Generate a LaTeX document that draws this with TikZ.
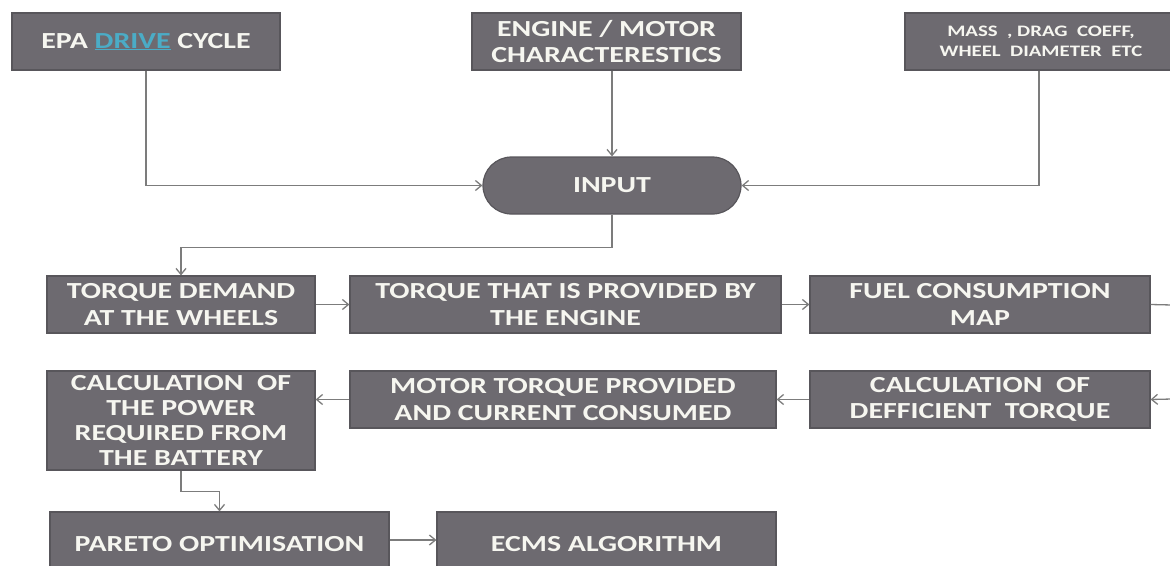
\documentclass[tikz,border=0pt]{standalone}
\usepackage{fontspec}
\setmainfont{Carlito}[FakeStretch=1.3]
\usetikzlibrary{arrows.meta}
\definecolor{boxfill}{HTML}{6D6A70}
\definecolor{boxline}{HTML}{58565B}
\definecolor{wire}{HTML}{7C7C7C}
\definecolor{txt}{HTML}{F6F6F0}
\definecolor{link}{HTML}{4BACC6}
\tikzset{
  blk/.style={draw=boxline, line width=1.2pt, fill=boxfill, text=txt, font=\bfseries\fontsize{23}{26.5}\selectfont, align=center, inner sep=0pt},
  conn/.style={draw=wire, line width=1.3pt, -{Straight Barb[length=6pt,width=10pt]}},
  plain/.style={draw=wire, line width=1.3pt}
}
\begin{document}
\begin{tikzpicture}[x=1pt,y=-1pt]
\useasboundingbox (0,0) rectangle (1170,565);
% top inputs
\node[blk, minimum width=268pt, minimum height=57pt] (epa) at (146,41.5) {EPA \textcolor{link}{\underline{DRIVE}} CYCLE};
\node[blk, minimum width=269pt, minimum height=57pt] (eng) at (606.5,41.5) {ENGINE / MOTOR\\CHARACTERESTICS};
\node[blk, minimum width=272pt, minimum height=57pt, font=\bfseries\fontsize{16}{19.5}\selectfont] (mass) at (1041,41.5) {MASS~~, DRAG~ COEFF,\\WHEEL~ DIAMETER~ ETC};
\node[blk, minimum width=258pt, minimum height=57pt, rounded corners=28.5pt] (inp) at (612,185.5) {INPUT};
% row 1
\node[blk, minimum width=268pt, minimum height=57pt] (tdem) at (181,304.5) {TORQUE DEMAND\\AT THE WHEELS};
\node[blk, minimum width=431pt, minimum height=57pt] (teng) at (565.5,304.5) {TORQUE THAT IS PROVIDED BY\\THE ENGINE};
\node[blk, minimum width=340pt, minimum height=57pt] (fuel) at (980,304.5) {FUEL CONSUMPTION\\MAP};
% row 2
\node[blk, minimum width=340pt, minimum height=57pt] (defi) at (980,399.5) {CALCULATION~ OF\\DEFFICIENT~ TORQUE};
\node[blk, minimum width=426pt, minimum height=57pt] (mot) at (563,399.5) {MOTOR TORQUE PROVIDED\\AND CURRENT CONSUMED};
\node[blk, minimum width=268pt, minimum height=99pt, font=\bfseries\fontsize{23}{25}\selectfont] (pow) at (181,420.5) {CALCULATION~ OF\\THE POWER\\REQUIRED FROM\\THE BATTERY};
% row 3
\node[blk, minimum width=339pt, minimum height=64pt] (par) at (219.5,544) {PARETO OPTIMISATION};
\node[blk, minimum width=339pt, minimum height=64pt] (ecms) at (606.5,544) {ECMS ALGORITHM};
% free ends at the right border
\coordinate (outR) at (1172,305);
\coordinate (inR) at (1172,399);
% connectors
\draw[conn] (epa.south) |- (inp.west);
\draw[conn] (eng.south -| inp.north) -- (inp.north);
\draw[conn] (mass.south -| 1039,0) |- (inp.east);
\draw[conn] (inp.south) -- ++(0,33) -| (tdem.north);
\draw[conn] (tdem.east) -- (teng.west);
\draw[conn] (teng.east) -- (fuel.west);
\draw[plain] (fuel.east) -- (outR);
\draw[conn] (inR) -- (defi.east);
\draw[conn] (defi.west) -- (mot.east);
\draw[conn] (mot.west) -- (pow.east |- mot.west);
\draw[conn] (pow.south) -- ++(0,21) -| (par.north);
\draw[conn] (par.east |- 0,540) -- (ecms.west |- 0,540);
\end{tikzpicture}
\end{document}
